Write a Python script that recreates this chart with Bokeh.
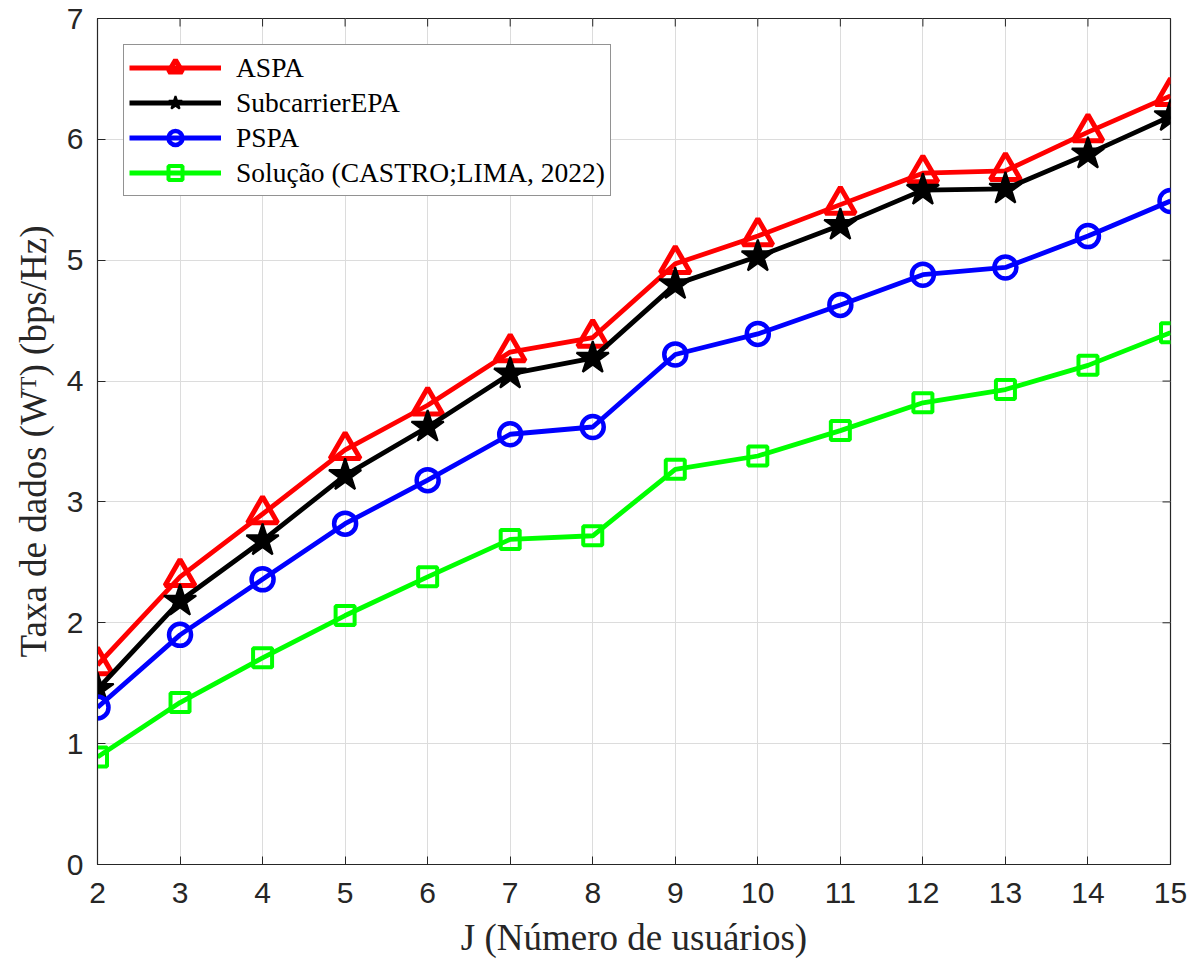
import math
from bokeh.plotting import figure
from bokeh.models import Range1d, FixedTicker, Legend, LegendItem
from bokeh.embed import file_html
from bokeh.resources import INLINE

users = [2, 3, 4, 5, 6, 7, 8, 9, 10, 11, 12, 13, 14, 15]
aspa = [1.65, 2.38, 2.90, 3.43, 3.80, 4.24, 4.36, 4.97, 5.20, 5.46, 5.72, 5.74, 6.06, 6.36]
subcarrier_epa = [1.45, 2.18, 2.68, 3.22, 3.62, 4.06, 4.19, 4.80, 5.03, 5.29, 5.58, 5.59, 5.88, 6.19]
pspa = [1.30, 1.90, 2.36, 2.82, 3.18, 3.56, 3.62, 4.22, 4.39, 4.63, 4.88, 4.94, 5.20, 5.49]
solucao = [0.89, 1.34, 1.71, 2.06, 2.38, 2.69, 2.72, 3.27, 3.38, 3.59, 3.82, 3.93, 4.13, 4.40]
x_ticks = list(range(2, 16))
y_ticks = list(range(0, 8))

AX = "#262626"
TICK_FONT = "Liberation Sans"
SERIF = "Liberation Serif"

x_min, x_max = 2, 15
y_min, y_max = 0, 7

p = figure(width=1198, height=965, output_backend="svg", toolbar_location=None,
           x_range=Range1d(x_min, x_max), y_range=Range1d(y_min, y_max),
           min_border_left=97, min_border_right=28, min_border_top=18, min_border_bottom=101)
p.outline_line_color = AX
p.outline_line_width = 1.2

for ax in (p.xaxis[0], p.yaxis[0]):
    ax.major_tick_in = 8
    ax.major_tick_out = 0
    ax.minor_tick_in = 0
    ax.minor_tick_out = 0
    ax.axis_line_color = AX
    ax.major_tick_line_color = AX
    ax.major_label_text_font = TICK_FONT
    ax.major_label_text_font_size = "30px"
    ax.major_label_text_color = AX
    ax.axis_label_text_font = SERIF
    ax.axis_label_text_font_size = "37px"
    ax.axis_label_text_font_style = "normal"
    ax.axis_label_text_color = AX

p.xaxis[0].ticker = FixedTicker(ticks=x_ticks)
p.yaxis[0].ticker = FixedTicker(ticks=y_ticks)
p.xaxis[0].axis_label = "J (Número de usuários)"
p.yaxis[0].axis_label = "Taxa de dados (Wᵀ) (bps/Hz)"
p.xaxis[0].major_label_standoff = 18
p.yaxis[0].major_label_standoff = 14
p.xaxis[0].axis_label_standoff = 11
p.yaxis[0].axis_label_standoff = 10

# inward ticks on the top and right edges of the box
p.ray(x=x_ticks, y=[y_max] * len(x_ticks), length=8, length_units="screen",
      angle=-math.pi / 2, line_color=AX, line_width=1)
p.ray(x=[x_max] * len(y_ticks), y=y_ticks, length=8, length_units="screen",
      angle=math.pi, line_color=AX, line_width=1)

p.xgrid.ticker = FixedTicker(ticks=x_ticks)
p.ygrid.ticker = FixedTicker(ticks=y_ticks)
p.grid.grid_line_color = "#dcdcdc"
p.grid.grid_line_width = 1

LW = 4.8
r1l = p.line(users, aspa, line_color="#ff0000", line_width=LW)
r1m = p.scatter(users, aspa, marker="triangle", size=30, line_color="#ff0000",
                fill_color="#ff0000", fill_alpha=0.0, line_width=5)
r2l = p.line(users, subcarrier_epa, line_color="#000000", line_width=LW)
r2m = p.scatter(users, subcarrier_epa, marker="star", size=34, line_color="#000000",
                fill_color="#000000", line_width=2)
r3l = p.line(users, pspa, line_color="#0000ff", line_width=LW)
r3m = p.scatter(users, pspa, marker="circle", size=22, line_color="#0000ff",
                fill_color=None, line_width=4.5)
r4l = p.line(users, solucao, line_color="#00ff00", line_width=LW)
r4m = p.scatter(users, solucao, marker="square", size=19, line_color="#00ff00",
                fill_color=None, line_width=4)

legend = Legend(items=[
    LegendItem(label="ASPA", renderers=[r1l, r1m]),
    LegendItem(label="SubcarrierEPA", renderers=[r2l, r2m]),
    LegendItem(label="PSPA", renderers=[r3l, r3m]),
    LegendItem(label="Solução (CASTRO;LIMA, 2022)", renderers=[r4l, r4m]),
], location="top_left")
legend.margin = 26
legend.padding = 5
legend.spacing = 0
legend.glyph_width = 92
legend.glyph_height = 35
legend.label_height = 35
legend.label_standoff = 15
legend.label_text_font = SERIF
legend.label_text_font_size = "27.5px"
legend.label_text_color = "#000000"
legend.border_line_color = AX
legend.border_line_width = 1.5
legend.background_fill_color = "white"
legend.background_fill_alpha = 1.0
p.add_layout(legend)

open("out.html", "w").write(file_html(p, INLINE))
